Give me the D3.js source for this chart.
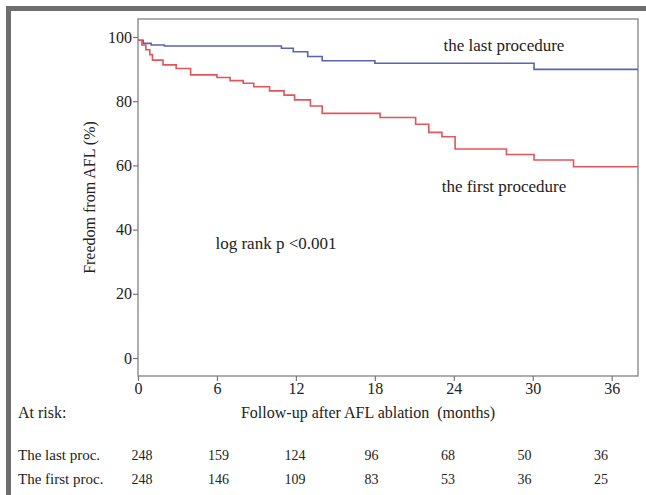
<!DOCTYPE html>
<html>
<head>
<meta charset="utf-8">
<script src="https://cdn.jsdelivr.net/npm/d3@7"></script>
<style>
	body { margin: 0; background: #fff; }
	svg text { font-family: "Liberation Serif", "DejaVu Serif", serif; fill: #222; }
	.frame { fill: none; stroke: #6e6e6e; stroke-width: 5; }
	.box { fill: none; stroke: #8c8c8c; stroke-width: 1.4; }
	.axis path { display: none; }
	.axis line { stroke: #777; stroke-width: 1.2; }
	.curve { fill: none; stroke-width: 1.6; }
</style>
</head>
<body>
<svg id="chart" width="646" height="495"></svg>
<script>
// survival steps [month, percent]
var lastProc = [
	[0, 99], [0.4, 98], [1.0, 97.5], [2.0, 97.2], [10.9, 96.5], [11.8, 95.4],
	[12.9, 93.9], [14.0, 92.6], [18.0, 91.8], [30.1, 89.9], [38, 89.9]
];
var firstProc = [
	[0, 99], [0.3, 97.5], [0.6, 96], [0.9, 94.5], [1.1, 92.8], [1.9, 91.3],
	[2.9, 90.2], [4.0, 88.2], [6.0, 87.4], [7.0, 86.4], [8.0, 85.6], [8.8, 84.5],
	[10.0, 83.2], [11.1, 81.9], [11.9, 80.4], [13.1, 78.5], [14.0, 76.2],
	[18.4, 74.9], [21.1, 72.8], [22.1, 70.3], [23.1, 68.9], [24.1, 65.1],
	[28.0, 63.4], [30.1, 61.7], [33.1, 59.6], [38, 59.6]
];
var xTicks = [0, 6, 12, 18, 24, 30, 36];
var yTicks = [0, 20, 40, 60, 80, 100];
var riskLabels = ["The last proc.", "The first proc."];
var riskLast = [248, 159, 124, 96, 68, 50, 36];
var riskFirst = [248, 146, 109, 83, 53, 36, 25];

var km = {
	init : function ()
	{
		this.svg = d3.select("svg#chart");
		this.box = {left : 138, top : 19, right : 638, bottom : 376};

		this.x = d3.scaleLinear().domain([0, 38]).range([this.box.left, this.box.right]);
		this.y = d3.scaleLinear().domain([-5.6, 105.6]).range([this.box.bottom, this.box.top]);

		// outer frame, cut by the right and bottom edge
		this.svg.append("rect")
		.attr("class", "frame")
		.attr("x", 8.5).attr("y", 8.5)
		.attr("width", 700).attr("height", 600);

		this.svg.append("rect")
		.attr("class", "box")
		.attr("x", this.box.left).attr("y", this.box.top)
		.attr("width", this.box.right - this.box.left)
		.attr("height", this.box.bottom - this.box.top);

		this.renderAxes();
		this.renderCurve(lastProc, "#5a64b4");
		this.renderCurve(firstProc, "#e2555a");
		this.renderLabels();
		this.renderRiskTable();
	},

	renderAxes : function ()
	{
		var xAxis = this.svg.append("g")
		.attr("class", "axis")
		.attr("transform", "translate(0," + this.box.bottom + ")")
		.call(d3.axisBottom(this.x).tickValues(xTicks).tickSize(5).tickPadding(2));

		var yAxis = this.svg.append("g")
		.attr("class", "axis")
		.attr("transform", "translate(" + this.box.left + ",0)")
		.call(d3.axisLeft(this.y).tickValues(yTicks).tickSize(5).tickPadding(1));

		[xAxis, yAxis].forEach(function (g) {
			g.attr("font-family", null).attr("font-size", null);
			g.selectAll("text").style("font-size", "16px");
		});

		this.svg.append("text")
		.attr("transform", "translate(95," + this.y(50) + ") rotate(-90)")
		.attr("text-anchor", "middle")
		.style("font-size", "16px")
		.text("Freedom from AFL (%)");

		this.svg.append("text")
		.attr("x", 368).attr("y", 418)
		.attr("text-anchor", "middle")
		.style("font-size", "16px")
		.style("white-space", "pre")
		.text("Follow-up after AFL ablation  (months)");
	},

	renderCurve : function (data, color)
	{
		var line = d3.line()
		.x(function (d) { return this.x(d[0]); }.bind(this))
		.y(function (d) { return this.y(d[1]); }.bind(this))
		.curve(d3.curveStepAfter);

		this.svg.append("path")
		.datum(data)
		.attr("class", "curve")
		.attr("stroke", color)
		.attr("d", line);
	},

	renderLabels : function ()
	{
		var notes = [
			{text : "the last procedure", x : 504, y : 51},
			{text : "the first procedure", x : 504, y : 192},
			{text : "log rank p <0.001", x : 276, y : 249}
		];

		this.svg.selectAll("text.note")
		.data(notes)
		.enter().append("text")
		.attr("class", "note")
		.attr("x", function (d) { return d.x; })
		.attr("y", function (d) { return d.y; })
		.attr("text-anchor", "middle")
		.style("font-size", "17px")
		.text(function (d) { return d.text; });
	},

	renderRiskTable : function ()
	{
		// at-risk numbers sit slightly inside the tick positions
		var tx = d3.scaleLinear().domain([0, 36]).range([142, 601]);
		var rows = [riskLast, riskFirst];
		var rowY = [460, 484];

		this.svg.append("text")
		.attr("x", 18).attr("y", 418)
		.style("font-size", "16px")
		.text("At risk:");

		for (var r = 0; r < rows.length; r++) {
			this.svg.append("text")
			.attr("x", 18).attr("y", rowY[r])
			.style("font-size", "15px")
			.text(riskLabels[r]);

			this.svg.selectAll("text.risk" + r)
			.data(rows[r])
			.enter().append("text")
			.attr("class", "risk" + r)
			.attr("x", function (d, i) { return tx(xTicks[i]); })
			.attr("y", rowY[r])
			.attr("text-anchor", "middle")
			.style("font-size", "14px")
			.text(function (d) { return d; });
		}
	}
};

km.init();
</script>
</body>
</html>
